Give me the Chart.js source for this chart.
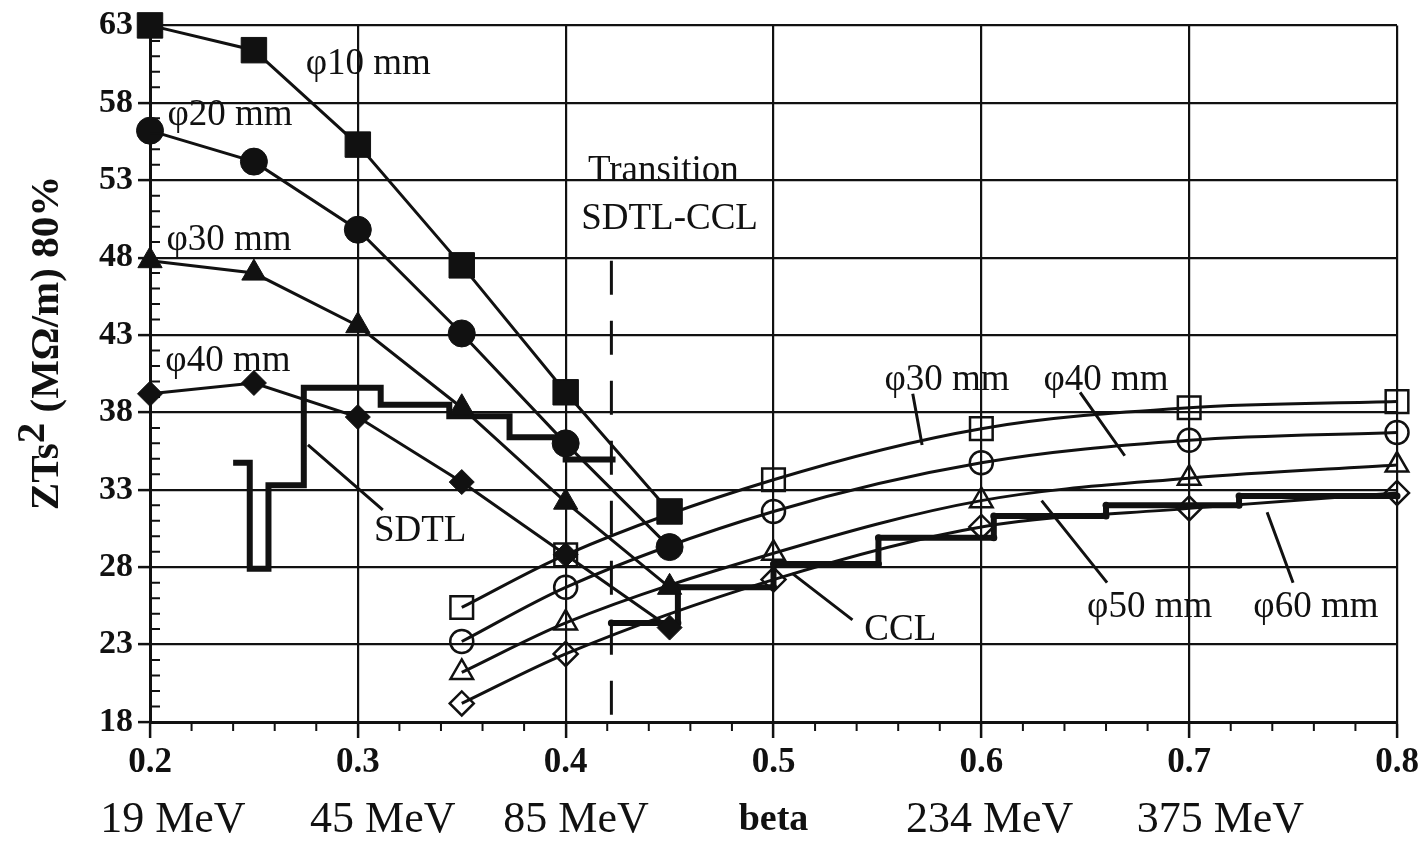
<!DOCTYPE html>
<html>
<head>
<meta charset="utf-8">
<title>ZTs² vs beta</title>
<script src="https://cdn.jsdelivr.net/npm/chart.js@4.4.1/dist/chart.umd.min.js"></script>
<style>
  html, body { margin: 0; padding: 0; background: #fff; }
  #wrap { width: 1428px; height: 842px; }
</style>
</head>
<body>
<div id="wrap"><canvas id="chart"></canvas></div>
<script>
const ink = '#111';
const serif = "'Liberation Serif', 'Times New Roman', serif";

// axis ticks
const betaTicks = [0.2, 0.3, 0.4, 0.5, 0.6, 0.7, 0.8];
const ztTicks = [18, 23, 28, 33, 38, 43, 48, 53, 58, 63];

// SDTL curves (filled markers), one per bore
const sdtlBeta = [0.2, 0.25, 0.3, 0.35, 0.4, 0.45];
const sdtl10 = [63, 61.4, 55.3, 47.5, 39.3, 31.6];
const sdtl20 = [56.2, 54.2, 49.8, 43.1, 36.0, 29.3];
const sdtl30 = [47.8, 47.0, 43.6, 38.3, 32.2, 26.7];
const sdtl40 = [39.2, 39.9, 37.7, 33.5, 28.8, 24.1];

// CCL curves (open markers)
const cclBeta = [0.35, 0.4, 0.5, 0.6, 0.7, 0.8];
const ccl30 = [25.4, 28.8, 33.65, 36.95, 38.3, 38.7];
const ccl40 = [23.2, 26.7, 31.6, 34.75, 36.2, 36.7];
const ccl50 = [21.2, 24.4, 28.9, 32.3, 33.75, 34.6];
const ccl60 = [19.2, 22.4, 27.2, 30.6, 31.8, 32.8];

// design staircases: level i runs from edge i to edge i+1
const sdtlStepEdges = [0.240, 0.248, 0.257, 0.274, 0.311, 0.344, 0.373, 0.400, 0.424];
const sdtlStepLevels = [34.75, 27.9, 33.3, 39.6, 38.5, 37.75, 36.4, 34.95];
const cclStepEdges = [0.422, 0.454, 0.5, 0.5505, 0.606, 0.66, 0.724, 0.8];
const cclStepLevels = [24.4, 26.7, 28.2, 29.9, 31.3, 32.0, 32.6];

// SDTL-CCL transition
const transitionBeta = 0.422;
const transitionSpan = [47.8, 18];

// energies written under the beta axis
const energyLabels = ['19 MeV', '45 MeV', '85 MeV', '234 MeV', '375 MeV'];
const energyBeta = [0.211, 0.312, 0.405, 0.604, 0.715];

// notes on the plot
const noteText = ['φ10 mm', 'φ20 mm', 'φ30 mm', 'φ40 mm', 'Transition', 'SDTL-CCL',
  'SDTL', 'CCL', 'φ30 mm', 'φ40 mm', 'φ50 mm', 'φ60 mm'];
const noteBeta = [0.305, 0.2385, 0.238, 0.2375, 0.447, 0.450, 0.330, 0.561, 0.5835, 0.660, 0.681, 0.761];
const noteValue = [60.5, 57.2, 49.1, 41.3, 53.6, 50.5, 30.3, 23.9, 40.1, 40.1, 25.4, 25.4];

// leader lines [beta0, value0, beta1, value1]
const leaders = [
  [0.276, 35.9, 0.312, 31.7],
  [0.509, 27.6, 0.538, 24.6],
  [0.567, 39.2, 0.5715, 35.9],
  [0.6475, 39.3, 0.669, 35.2],
  [0.629, 32.3, 0.6605, 27.0],
  [0.7375, 31.55, 0.750, 27.0]
];

const zip = (xs, ys) => xs.map((x, i) => ({ x, y: ys[i] }));

function staircase(edges, levels) {
  const pts = [];
  levels.forEach((v, i) => {
    pts.push({ x: edges[i], y: v });
    pts.push({ x: edges[i + 1], y: v });
  });
  return pts;
}

function markerSet(xs, ys, style, radius, filled) {
  return {
    data: zip(xs, ys),
    borderColor: ink,
    borderWidth: 3,
    tension: 0,
    pointStyle: style,
    pointRadius: radius,
    pointBackgroundColor: filled ? ink : 'rgba(0,0,0,0)',
    pointBorderColor: ink,
    pointBorderWidth: filled ? 1 : 2.5,
    clip: false
  };
}

function cclSet(ys, style, radius) {
  return Object.assign(markerSet(cclBeta, ys, style, radius, false), {
    tension: 0.4,
    cubicInterpolationMode: 'monotone'
  });
}

const datasets = [
  markerSet(sdtlBeta, sdtl10, 'rect', 18, true),
  markerSet(sdtlBeta, sdtl20, 'circle', 13.5, true),
  markerSet(sdtlBeta, sdtl30, 'triangle', 14, true),
  markerSet(sdtlBeta, sdtl40, 'rectRot', 12.5, true),
  cclSet(ccl30, 'rect', 16),
  cclSet(ccl40, 'circle', 11.5),
  cclSet(ccl50, 'triangle', 13),
  cclSet(ccl60, 'rectRot', 12),
  {
    data: staircase(sdtlStepEdges, sdtlStepLevels),
    borderColor: ink, borderWidth: 6, pointRadius: 0,
    borderJoinStyle: 'miter', clip: false
  },
  {
    data: staircase(cclStepEdges, cclStepLevels),
    borderColor: ink, borderWidth: 6, pointRadius: 3.5,
    pointBackgroundColor: ink, pointBorderWidth: 0,
    borderJoinStyle: 'round', borderCapStyle: 'round', clip: false
  },
  {
    data: transitionSpan.map(v => ({ x: transitionBeta, y: v })),
    borderColor: ink, borderWidth: 3, borderDash: [34, 26], pointRadius: 0
  }
];

const minorTicks = {
  id: 'minorTicks',
  afterDraw(chart) {
    const { ctx, chartArea: a, scales: { x, y } } = chart;
    ctx.save();
    ctx.strokeStyle = ink;
    ctx.lineWidth = 2;
    ctx.beginPath();
    for (let v = ztTicks[0]; v <= ztTicks[ztTicks.length - 1]; v++) {
      if ((v - ztTicks[0]) % 5 === 0) continue;
      const py = y.getPixelForValue(v);
      ctx.moveTo(a.left, py);
      ctx.lineTo(a.left + 10, py);
    }
    for (let i = 1; i < 30; i++) {
      if (i % 5 === 0) continue;
      const px = x.getPixelForValue(0.2 + i * 0.02);
      ctx.moveTo(px, a.bottom);
      ctx.lineTo(px, a.bottom + 9);
    }
    ctx.stroke();
    ctx.restore();
  }
};

const textLayer = {
  id: 'textLayer',
  afterDraw(chart) {
    const { ctx, chartArea: a, scales: { x, y } } = chart;
    ctx.save();
    ctx.fillStyle = ink;
    ctx.strokeStyle = ink;

    // leaders
    ctx.lineWidth = 3;
    ctx.beginPath();
    leaders.forEach(([b0, v0, b1, v1]) => {
      ctx.moveTo(x.getPixelForValue(b0), y.getPixelForValue(v0));
      ctx.lineTo(x.getPixelForValue(b1), y.getPixelForValue(v1));
    });
    ctx.stroke();

    // notes
    ctx.font = `37px ${serif}`;
    ctx.textAlign = 'center';
    ctx.textBaseline = 'middle';
    noteText.forEach((t, i) => {
      ctx.fillText(t, x.getPixelForValue(noteBeta[i]), y.getPixelForValue(noteValue[i]));
    });

    // energies + axis name
    ctx.font = `44px ${serif}`;
    ctx.textBaseline = 'alphabetic';
    energyLabels.forEach((t, i) => ctx.fillText(t, x.getPixelForValue(energyBeta[i]), 832));
    ctx.font = `bold 38px ${serif}`;
    ctx.fillText('beta', (a.left + a.right) / 2, 830);

    // y title with superscript
    ctx.translate(47, 343);
    ctx.rotate(-Math.PI / 2);
    ctx.font = `bold 41px ${serif}`;
    const parts = ['ZTs', '2', ' (MΩ/m) 80%'];
    const widths = parts.map(p => ctx.measureText(p).width);
    let cx = -(widths[0] + widths[1] + widths[2]) / 2;
    ctx.textAlign = 'left';
    ctx.textBaseline = 'middle';
    ctx.fillText(parts[0], cx, 0);
    cx += widths[0];
    ctx.fillText(parts[1], cx, -14);
    cx += widths[1];
    ctx.fillText(parts[2], cx, 0);
    ctx.restore();
  }
};

new Chart(document.getElementById('chart'), {
  type: 'line',
  data: { datasets },
  options: {
    responsive: true,
    maintainAspectRatio: false,
    animation: false,
    layout: { padding: { top: 25, right: 31, left: 0, bottom: 0 } },
    plugins: { legend: { display: false }, tooltip: { enabled: false } },
    scales: {
      x: {
        type: 'linear',
        min: 0.2,
        max: 0.8,
        afterBuildTicks: s => { s.ticks = betaTicks.map(v => ({ value: v })); },
        afterFit: s => { s.height = 120; },
        grid: { color: ink, lineWidth: 2.2, tickLength: 16, tickColor: ink, tickWidth: 2.5 },
        border: { color: ink, width: 3 },
        ticks: {
          color: ink, padding: 4, maxRotation: 0, autoSkip: false,
          font: { family: serif, size: 35, weight: 'bold' },
          callback: v => v.toFixed(1)
        }
      },
      y: {
        min: 18,
        max: 63,
        afterBuildTicks: s => { s.ticks = ztTicks.map(v => ({ value: v })); },
        afterFit: s => { s.width = 150; },
        grid: { color: ink, lineWidth: 2.2, tickLength: 12, tickColor: ink, tickWidth: 2.5 },
        border: { color: ink, width: 3 },
        ticks: {
          color: ink, padding: 5, autoSkip: false,
          font: { family: serif, size: 34, weight: 'bold' }
        }
      }
    }
  },
  plugins: [minorTicks, textLayer]
});
</script>
</body>
</html>
